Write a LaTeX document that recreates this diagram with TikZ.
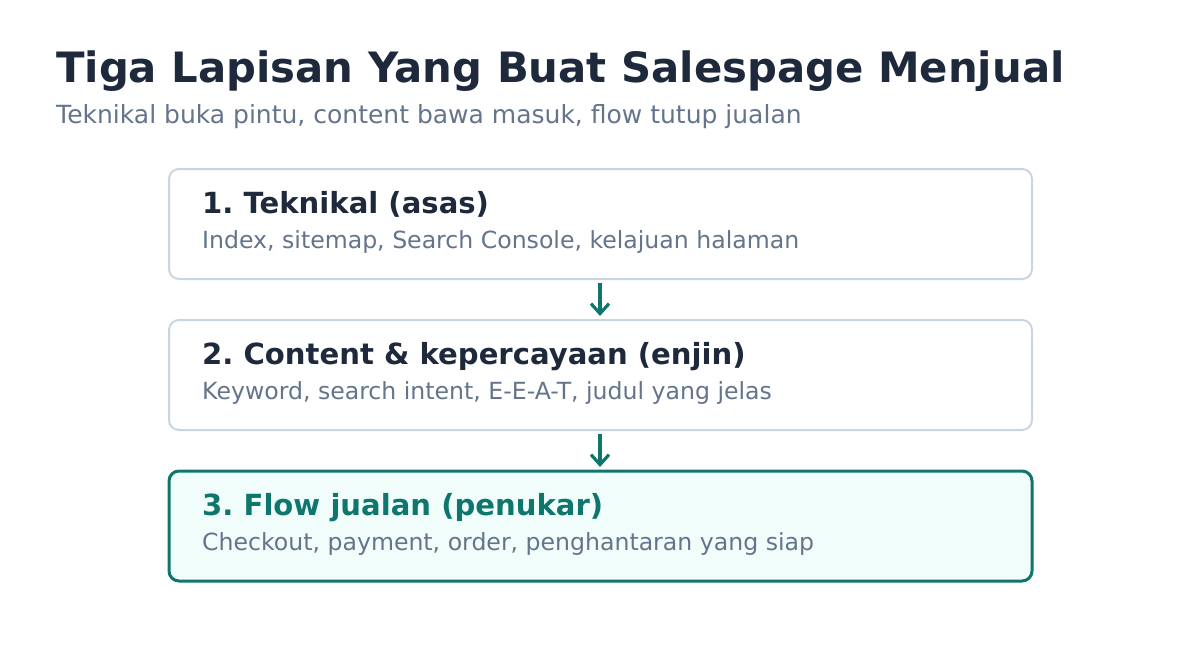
\documentclass[tikz,border=0pt]{standalone}
\usepackage{fontspec}
\setmainfont{DejaVu Sans}
\usetikzlibrary{arrows.meta}
\definecolor{titlec}{HTML}{1E293B}
\definecolor{subc}{HTML}{64748B}
\definecolor{borderc}{HTML}{CBD5E1}
\definecolor{teal}{HTML}{0F766E}
\definecolor{tealbg}{HTML}{F0FDFA}
\frenchspacing
\tikzset{
  layerbox/.style={draw=borderc, line width=2pt, rounded corners=10pt, fill=white},
  hlbox/.style={draw=teal, line width=3pt, rounded corners=10pt, fill=tealbg},
  boxtitle/.style={anchor=base west, inner sep=0pt, font=\fontsize{29.1}{33}\selectfont\bfseries, text=titlec},
  boxsub/.style={anchor=base west, inner sep=0pt, font=\fontsize{23.6}{27}\selectfont, text=subc},
  flow/.style={draw=teal, line width=3.2pt, -{Straight Barb[length=10pt,width=18pt,line width=3.2pt]}}
}
\begin{document}
\begin{tikzpicture}[x=1pt,y=-1pt]
\useasboundingbox (0,0) rectangle (1200,648);
\node[anchor=base west, inner sep=0pt, font=\fontsize{41.8}{46}\selectfont\bfseries, text=titlec] (title) at (56,82) {Tiga Lapisan Yang Buat Salespage Menjual};
\node[anchor=base west, inner sep=0pt, font=\fontsize{25}{29}\selectfont, text=subc] (subtitle) at (56,123) {Teknikal buka pintu, content bawa masuk, flow tutup jualan};

\draw[layerbox] (169,169) rectangle (1032,279);
\node[boxtitle] (t1) at (202,213) {1. Teknikal (asas)};
\node[boxsub] (s1) at (202,248) {Index, sitemap, Search Console, kelajuan halaman};

\draw[layerbox] (169,320) rectangle (1032,430);
\node[boxtitle] (t2) at (202,364) {2. Content \& kepercayaan (enjin)};
\node[boxsub] (s2) at (202,399) {Keyword, search intent, E-E-A-T, judul yang jelas};

\draw[hlbox] (169,471) rectangle (1032,581);
\node[boxtitle, text=teal] (t3) at (202,515) {3. Flow jualan (penukar)};
\node[boxsub] (s3) at (202,550) {Checkout, payment, order, penghantaran yang siap};

\coordinate (a1s) at (600,283);
\coordinate (a1e) at (600,316);
\coordinate (a2s) at (600,434);
\coordinate (a2e) at (600,467);
\draw[flow] (a1s) -- (a1e);
\draw[flow] (a2s) -- (a2e);
\end{tikzpicture}
\end{document}
